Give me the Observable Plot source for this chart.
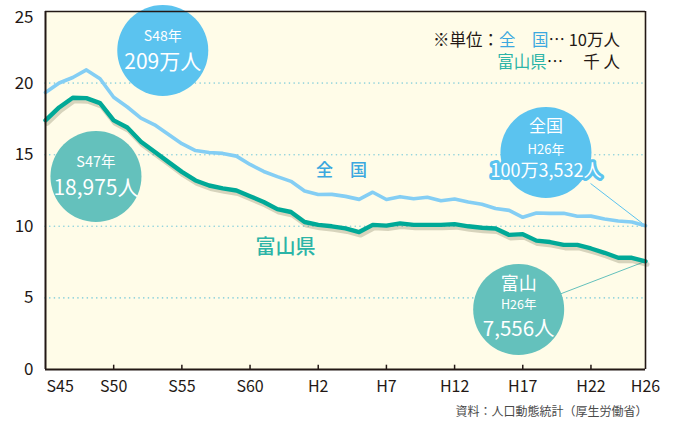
<!DOCTYPE html>
<html><head><meta charset="utf-8">
<script src="https://cdn.jsdelivr.net/npm/d3@7"></script>
<script src="https://cdn.jsdelivr.net/npm/@observablehq/plot@0.6"></script>
<style>
html,body{margin:0;padding:0;background:#fff;}
</style>
</head><body>
<div id="chart"></div>
<script>
// Years S45 (1970) .. H26 (2014)
const years = d3.range(1970, 2015);
// 全国 births (units: 10万人)
const national = [19.34, 20.01, 20.39, 20.92, 20.30, 19.01, 18.33, 17.55, 17.09, 16.43,
  15.77, 15.29, 15.15, 15.09, 14.90, 14.32, 13.83, 13.47, 13.14, 12.47,
  12.22, 12.23, 12.09, 11.88, 12.38, 11.87, 12.07, 11.92, 12.03, 11.78,
  11.91, 11.70, 11.54, 11.24, 11.11, 10.63, 10.93, 10.90, 10.91, 10.70,
  10.71, 10.51, 10.37, 10.30, 10.04];
// 富山県 births (units: 千人)
const toyama = [17.4, 18.3, 18.975, 18.95, 18.6, 17.4, 16.9, 15.9, 15.2, 14.5,
  13.8, 13.2, 12.85, 12.65, 12.5, 12.1, 11.7, 11.2, 11.0, 10.3,
  10.1, 10.0, 9.85, 9.6, 10.1, 10.05, 10.2, 10.1, 10.1, 10.1,
  10.15, 10.0, 9.9, 9.85, 9.4, 9.45, 9.0, 8.9, 8.7, 8.7,
  8.45, 8.15, 7.8, 7.8, 7.556];

const yTicks = [0, 5, 10, 15, 20];
const yTopTick = [25];
const gridValues = [5, 10, 15, 20];
const xTickYears = [1970, 1975, 1980, 1985, 1990, 1995, 2000, 2005, 2010, 2014];
const xTickLabels = ["S45", "S50", "S55", "S60", "H2", "H7", "H12", "H17", "H22", "H26"];

// callout bubbles (anchored in data space)
const bubbleX = [1978.6, 1973.7, 2006.7, 2004.7];
const bubbleY = [22.28, 13.48, 15.15, 4.19];
const bubbleKind = ["national", "toyama", "national", "toyama"];
const bubbleLines = [
  [["S48年", -14, 14], ["209万人", 12, 21]],
  [["S47年", -14, 14.5], ["18,975人", 12, 21]],
  [["全国", -26, 17], ["H26年", -3, 13], ["100万3,532人", 19, 18]],
  [["富山", -25, 18], ["H26年", -4, 12.5], ["7,556人", 20, 20.5]]
];
// leader lines from bubble 3 and 4 to the H26 points
const leaderFromX = [2009.97, 2007.77];
const leaderFromY = [12.99, 5.28];
const leaderKind = ["national", "toyama"];

const seriesLabels = [
  {text: "全　国", x: 1991.7, y: 13.9, kind: "national", fs: 17},
  {text: "富山県", x: 1987.6, y: 8.52, kind: "toyama", fs: 20}
];

const COL = {
  national: "#84cef4", toyama: "#00a997",
  bubbleNational: "#5bc3ef", bubbleToyama: "#64c1bc",
  labelNational: "#3ba8df", labelToyama: "#2cb4a7",
  ink: "#231815", grid: "#8ed2dc", bg: "#fffce8"
};
const FONT = "'Noto Sans CJK JP', 'Noto Sans', sans-serif";

const natData = years.map((y, i) => ({year: y, v: national[i]}));
const toyData = years.map((y, i) => ({year: y, v: toyama[i]}));
const bubbles = bubbleX.map((x, i) => ({x, y: bubbleY[i], kind: bubbleKind[i]}));
const bubbleTexts = bubbleLines.flatMap((lines, i) =>
  lines.map(([t, dy, fs]) => ({x: bubbleX[i], y: bubbleY[i], t, dy, fs, kind: bubbleKind[i], i})));
const leaders = leaderFromX.map((x, i) => ({
  x1: x, y1: leaderFromY[i], x2: 2014,
  y2: leaderKind[i] === "national" ? national[national.length - 1] : toyama[toyama.length - 1],
  kind: leaderKind[i]
}));
const xLabel = new Map(xTickYears.map((y, i) => [y, xTickLabels[i]]));

// unit note rendered with coloured tspans
function unitNote(index, scales) {
  const g = d3.create("svg:g").attr("font-family", FONT).attr("font-size", 16.5).attr("fill", COL.ink);
  const x = scales.x(2012.17);
  const t1 = g.append("text").attr("x", x).attr("y", scales.y(22.97)).attr("text-anchor", "end").attr("dy", "0.35em");
  t1.append("tspan").text("※単位：");
  t1.append("tspan").attr("fill", COL.labelNational).text("全　国");
  t1.append("tspan").text("… 10万人");
  const t2 = g.append("text").attr("x", x).attr("y", scales.y(21.44)).attr("text-anchor", "end").attr("dy", "0.35em");
  t2.append("tspan").attr("fill", COL.labelToyama).text("富山県");
  t2.append("tspan").text("…　 千 人");
  return g.node();
}

const chart = Plot.plot({
  width: 677,
  height: 425,
  marginLeft: 45,
  marginRight: 32,
  marginTop: 11,
  marginBottom: 56,
  x: {domain: [1970, 2014]},
  y: {domain: [0, 25]},
  style: {fontFamily: FONT, background: "#fff", color: COL.ink},
  marks: [
    Plot.frame({fill: COL.bg, stroke: null}),
    Plot.ruleY(gridValues, {stroke: COL.grid, strokeWidth: 1.6, strokeDasharray: "0.1,4.6", strokeLinecap: "round"}),
    Plot.link(leaders, {x1: "x1", y1: "y1", x2: "x2", y2: "y2",
      stroke: d => d.kind === "national" ? COL.bubbleNational : COL.bubbleToyama, strokeWidth: 1}),
    Plot.line(toyData, {x: "year", y: "v", stroke: "#6f6a4c", strokeOpacity: 0.28, strokeWidth: 5, dx: 1.5, dy: 3}),
    Plot.line(natData, {x: "year", y: "v", stroke: COL.national, strokeWidth: 3.6, strokeLinejoin: "round"}),
    Plot.line(toyData, {x: "year", y: "v", stroke: COL.toyama, strokeWidth: 4.4, strokeLinejoin: "round"}),
    Plot.dot(bubbles, {x: "x", y: "y", r: 45.5, stroke: null,
      fill: d => d.kind === "national" ? COL.bubbleNational : COL.bubbleToyama}),
    ...bubbleTexts.map(d => Plot.text([d], {x: "x", y: "y", text: "t", dy: d.dy, fontSize: d.fs,
      fill: "#fff",
      stroke: d.t === "100万3,532人" ? COL.bubbleNational : null,
      strokeWidth: d.t === "100万3,532人" ? 6 : 0,
      paintOrder: "stroke", strokeLinejoin: "round"})),
    ...seriesLabels.map(d => Plot.text([d], {x: "x", y: "y", text: "text", fontSize: d.fs, fontWeight: 500,
      fill: d.kind === "national" ? COL.labelNational : COL.labelToyama})),
    unitNote,
    // frame borders
    Plot.ruleY([25], {stroke: COL.ink, strokeWidth: 1.6}),
    Plot.ruleX([2014], {stroke: COL.ink, strokeWidth: 1.6}),
    Plot.ruleY([0], {stroke: COL.ink, strokeWidth: 2}),
    Plot.ruleX([1970], {stroke: COL.ink, strokeWidth: 2}),
    Plot.ruleX(xTickYears.slice(1, -1), {x: d => d, y1: () => 0, y2: () => 0.3, stroke: COL.ink, strokeWidth: 1.5}),
    Plot.axisY({ticks: yTicks, tickSize: 0, tickPadding: 12, fontSize: 17, label: null}),
    Plot.axisY({ticks: yTopTick, tickSize: 0, tickPadding: 12, fontSize: 17, dy: 6, label: null}),
    Plot.axisX({ticks: xTickYears.slice(1), tickFormat: d => xLabel.get(d), tickSize: 0, tickPadding: 11, fontSize: 16, label: null}),
    Plot.axisX({ticks: [1970], tickFormat: d => xLabel.get(d), tickSize: 0, tickPadding: 11, fontSize: 16, textAnchor: "start", dx: 1, label: null}),
    Plot.text(["資料：人口動態統計（厚生労働省）"], {frameAnchor: "bottom-right", dy: 46, dx: 2, fontSize: 12, fill: "#4a4a4a", text: d => d})
  ]
});
document.getElementById("chart").appendChild(chart);
</script>
</body></html>
